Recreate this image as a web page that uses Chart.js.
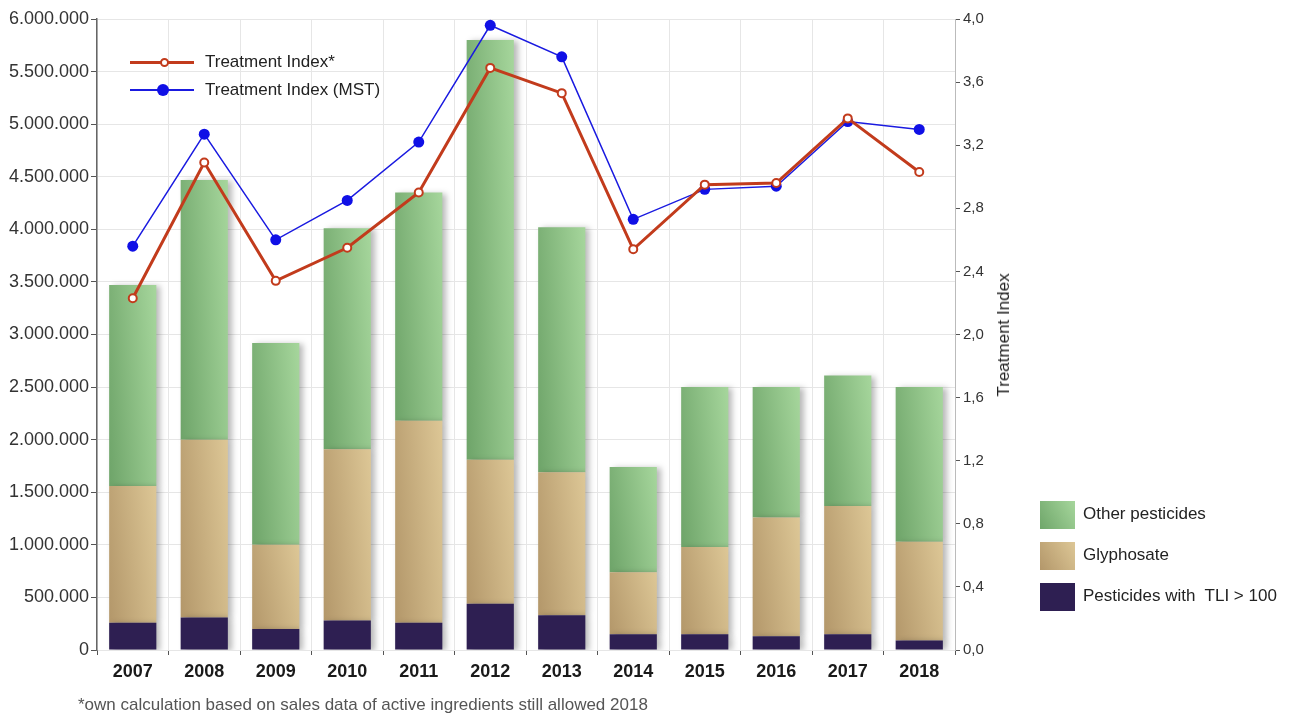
<!DOCTYPE html>
<html>
<head>
<meta charset="utf-8">
<script src="https://cdn.jsdelivr.net/npm/chart.js@4"></script>
<style>
  body { margin: 0; background: #fff; font-family: "Liberation Sans", Arial, sans-serif; }
  #wrap { position: relative; width: 1300px; height: 720px; }
  .lg { position: absolute; font-size: 17px; color: #222; white-space: nowrap; }
  .lg .ln { position: absolute; left: 0; width: 64px; }
  .lg .pt { position: absolute; border-radius: 50%; box-sizing: border-box; }
  .lg span { position: absolute; left: 75px; top: -10px; }
  .box { position: absolute; width: 35px; height: 28px; }
  .btxt { position: absolute; font-size: 17px; color: #222; white-space: nowrap; }
  #note { position: absolute; left: 78px; top: 695px; font-size: 17px; color: #555; white-space: nowrap; }
  #ytitle { position: absolute; left: 1004px; top: 335px; font-size: 17px; color: #222; white-space: nowrap;
            transform: translate(-50%, -50%) rotate(-90deg); }
</style>
</head>
<body>
<div id="wrap">
  <canvas id="chart" width="1300" height="720"></canvas>

  <div class="lg" style="left:130px; top:62px;">
    <div class="ln" style="top:-1.5px; height:3px; background:#c23b1c;"></div>
    <div class="pt" style="left:30px; top:-4.5px; width:9px; height:9px; background:#fff; border:2px solid #c23b1c;"></div>
    <span>Treatment Index*</span>
  </div>
  <div class="lg" style="left:130px; top:90px;">
    <div class="ln" style="top:-0.75px; height:1.5px; background:#1a1ae0;"></div>
    <div class="pt" style="left:27px; top:-6px; width:12px; height:12px; background:#1010e6;"></div>
    <span>Treatment Index (MST)</span>
  </div>

  <div id="ytitle">Treatment Index</div>

  <div class="box" style="left:1040px; top:501px; background:linear-gradient(60deg,#6fa66a,#a6d69c);"></div>
  <div class="btxt" style="left:1083px; top:504px;">Other pesticides</div>
  <div class="box" style="left:1040px; top:542px; background:linear-gradient(60deg,#b3976a,#ddc796);"></div>
  <div class="btxt" style="left:1083px; top:545px;">Glyphosate</div>
  <div class="box" style="left:1040px; top:583px; background:#2e1f52;"></div>
  <div class="btxt" style="left:1083px; top:586px;">Pesticides with&nbsp; TLI &gt; 100</div>

  <div id="note">*own calculation based on sales data of active ingredients still allowed 2018</div>
</div>
<script>
const years = ['2007', '2008', '2009', '2010', '2011', '2012', '2013', '2014', '2015', '2016', '2017', '2018'];

// stacked bar segments (bottom to top)
const tliOver100 = [260000, 310000, 200000, 280000, 260000, 440000, 330000, 150000, 150000, 130000, 150000, 90000];
const glyphosate = [1300000, 1690000, 800000, 1630000, 1920000, 1370000, 1360000, 590000, 830000, 1130000, 1220000, 940000];
const otherPesticides = [1910000, 2470000, 1920000, 2100000, 2170000, 3990000, 2330000, 1000000, 1520000, 1240000, 1240000, 1470000];

// treatment index lines (right axis)
const treatmentIndex = [2.23, 3.09, 2.34, 2.55, 2.90, 3.69, 3.53, 2.54, 2.95, 2.96, 3.37, 3.03];
const treatmentIndexMST = [2.56, 3.27, 2.60, 2.85, 3.22, 3.96, 3.76, 2.73, 2.92, 2.94, 3.35, 3.30];

const FONT = '"Liberation Sans", Arial, sans-serif';
const stacks = [tliOver100, glyphosate, otherPesticides];
const HALF_BAR = 23.5;

function dotted(v) {
  return String(Math.round(v)).replace(/\B(?=(\d{3})+(?!\d))/g, '.');
}

// shading per bar segment: mostly left-to-right, a little bottom-to-top
function barShade(dark, light, level) {
  return function (ctx) {
    const chart = ctx.chart;
    const xs = chart.scales.x, ys = chart.scales.y;
    if (!chart.chartArea || !xs || ctx.dataIndex === undefined) return dark;
    const i = ctx.dataIndex;
    let base = 0;
    for (let k = 0; k < level; k++) base += stacks[k][i];
    const top = base + stacks[level][i];
    const xl = xs.getPixelForValue(i) - HALF_BAR;
    const yb = ys.getPixelForValue(base), yt = ys.getPixelForValue(top);
    const w = HALF_BAR * 2, h = Math.max(yb - yt, 1);
    const gx = 0.75 / w, gy = 0.25 / h, n = gx * gx + gy * gy;
    const g = chart.ctx.createLinearGradient(xl, yb, xl + gx / n, yb - gy / n);
    g.addColorStop(0, dark);
    g.addColorStop(1, light);
    return g;
  };
}

// soft shadow behind the bars only
const barShadow = {
  id: 'barShadow',
  beforeDatasetDraw(chart, args) {
    if (args.meta.type !== 'bar') return;
    const c = chart.ctx;
    c.save();
    c.shadowColor = 'rgba(0,0,0,0.28)';
    c.shadowBlur = 6;
    c.shadowOffsetX = 4;
    c.shadowOffsetY = 1;
  },
  afterDatasetDraw(chart, args) {
    if (args.meta.type !== 'bar') return;
    chart.ctx.restore();
  }
};

new Chart(document.getElementById('chart'), {
  type: 'bar',
  data: {
    labels: years,
    datasets: [
      {
        type: 'line', label: 'Treatment Index*', data: treatmentIndex, yAxisID: 'y1', order: 0,
        borderColor: '#c23b1c', borderWidth: 3, pointRadius: 4, pointBorderWidth: 2,
        pointBackgroundColor: '#fff', pointBorderColor: '#c23b1c', tension: 0
      },
      {
        type: 'line', label: 'Treatment Index (MST)', data: treatmentIndexMST, yAxisID: 'y1', order: 0,
        borderColor: '#1a1ae0', borderWidth: 1.5, pointRadius: 5.5, pointBorderWidth: 0,
        pointBackgroundColor: '#1010e6', tension: 0
      },
      {
        label: 'Pesticides with  TLI > 100', data: tliOver100, order: 1,
        backgroundColor: '#2e1f52', barPercentage: 0.66, categoryPercentage: 1
      },
      {
        label: 'Glyphosate', data: glyphosate, order: 1,
        backgroundColor: barShade('#b3976a', '#ddc796', 1), barPercentage: 0.66, categoryPercentage: 1
      },
      {
        label: 'Other pesticides', data: otherPesticides, order: 1,
        backgroundColor: barShade('#6ea469', '#a6d69c', 2), barPercentage: 0.66, categoryPercentage: 1
      }
    ]
  },
  options: {
    responsive: false,
    animation: false,
    layout: { padding: { left: 0, right: 283, top: 19, bottom: 30 } },
    plugins: { legend: { display: false }, tooltip: { enabled: false } },
    scales: {
      x: {
        stacked: true,
        grid: { color: '#e6e6e6', tickColor: '#555', tickLength: 5, offset: true },
        border: { display: false },
        ticks: { color: '#1a1a1a', font: { family: FONT, size: 18, weight: 'bold' }, padding: 6 },
        afterFit(s) { s.height = 40; }
      },
      y: {
        stacked: true, min: 0, max: 6000000,
        grid: { color: '#e6e6e6', tickColor: '#555', tickLength: 6 },
        border: { color: '#666', width: 1.5 },
        ticks: { stepSize: 500000, color: '#333', font: { family: FONT, size: 18 }, padding: 2, callback: v => dotted(v) },
        afterFit(s) { s.width = 97; }
      },
      y1: {
        position: 'right', min: 0, max: 4,
        grid: { drawOnChartArea: false, tickColor: '#555', tickLength: 5 },
        border: { color: '#bbb', width: 1 },
        ticks: { stepSize: 0.4, color: '#333', font: { family: FONT, size: 15 }, padding: 3,
                 callback: v => v.toFixed(1).replace('.', ',') },
        afterFit(s) { s.width = 62; }
      }
    }
  },
  plugins: [barShadow]
});
</script>
</body>
</html>
